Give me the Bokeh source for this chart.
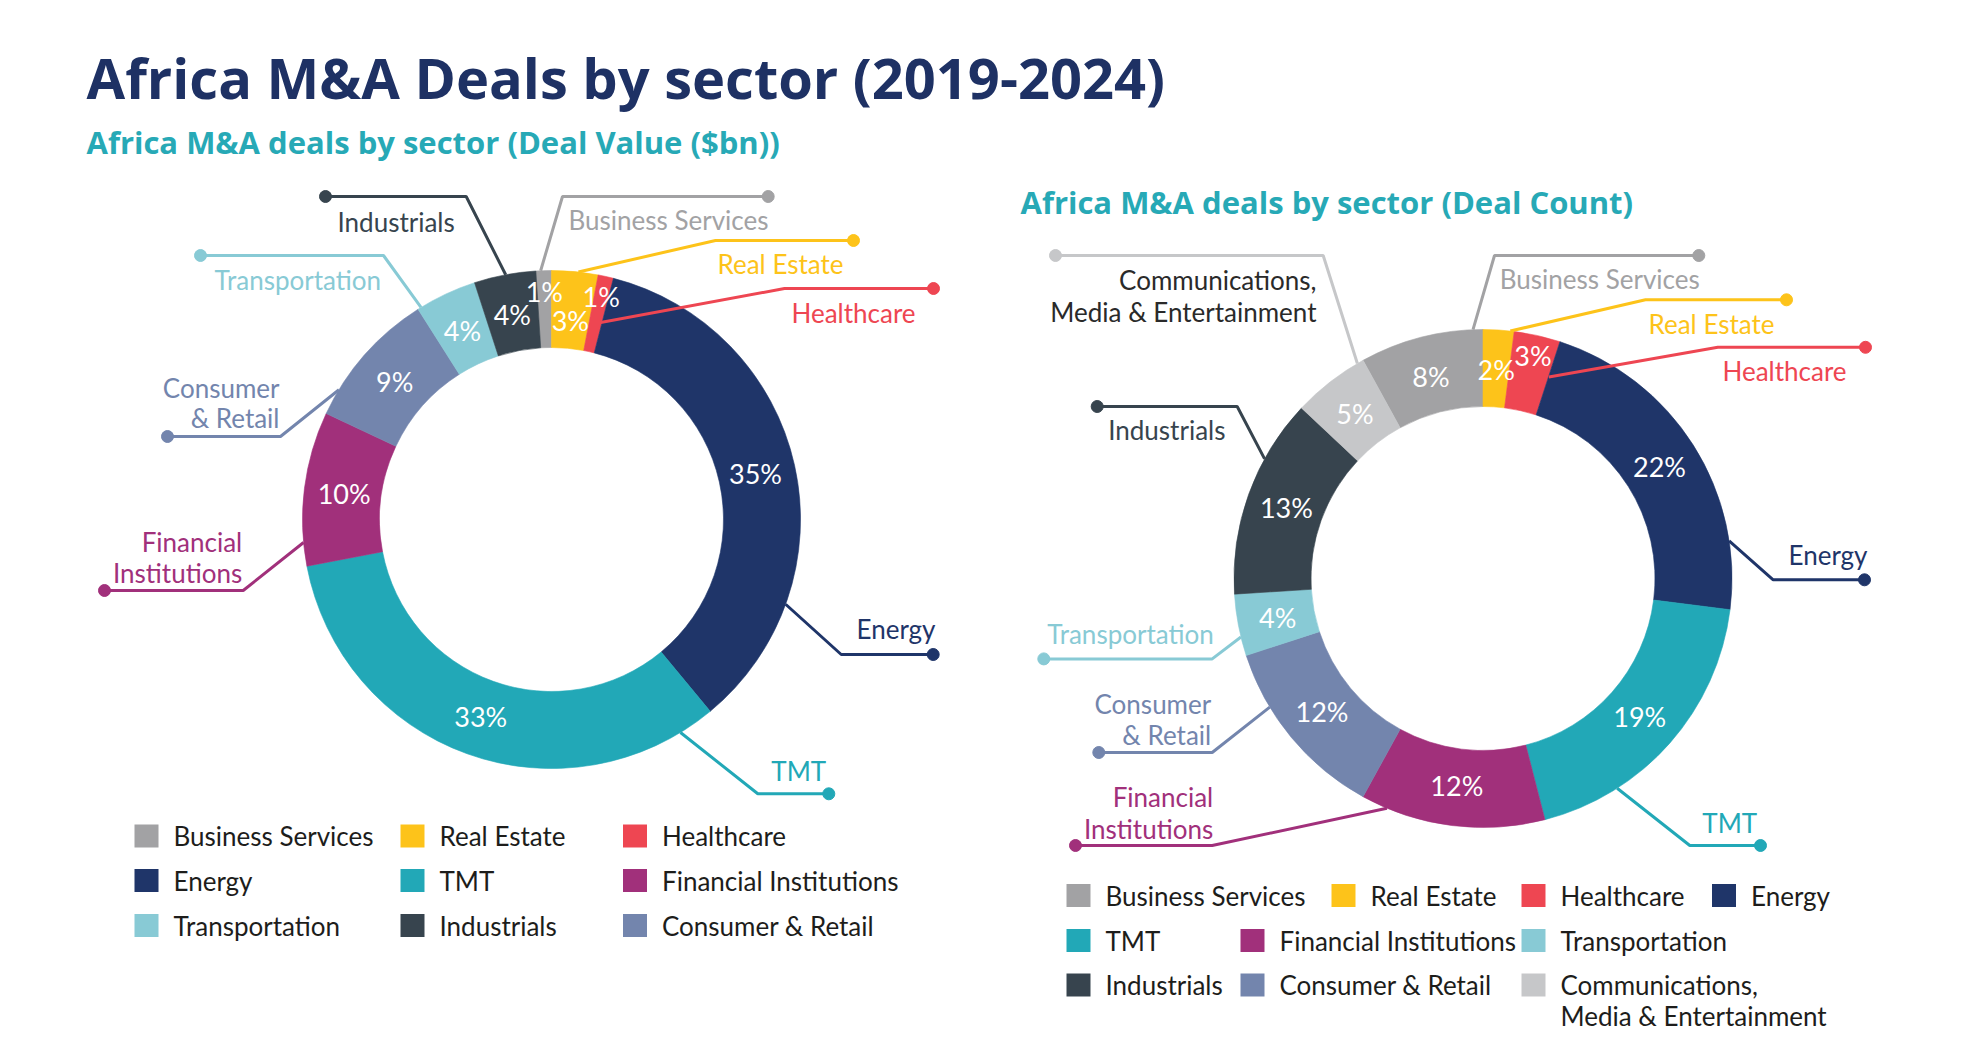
import numpy as np
from bokeh.plotting import figure
from bokeh.models import Range1d
from bokeh.core.properties import value
from bokeh.embed import file_html
from bokeh.resources import INLINE

# ---------------- data ----------------
title_text = "Africa M&A Deals by sector (2019-2024)"
subtitle_value = "Africa M&A deals by sector (Deal Value ($bn))"
subtitle_count = "Africa M&A deals by sector (Deal Count)"

value_sectors = ["Business Services", "Real Estate", "Healthcare", "Energy", "TMT",
                 "Financial Institutions", "Consumer & Retail", "Transportation", "Industrials"]
value_shares = [1, 3, 1, 35, 33, 10, 9, 4, 4]

count_sectors = ["Business Services", "Real Estate", "Healthcare", "Energy", "TMT",
                 "Financial Institutions", "Consumer & Retail", "Transportation", "Industrials",
                 "Communications, Media & Entertainment"]
count_shares = [8, 2, 3, 22, 19, 12, 12, 4, 13, 5]

value_legend_order = ["Business Services", "Real Estate", "Healthcare",
                      "Energy", "TMT", "Financial Institutions",
                      "Transportation", "Industrials", "Consumer & Retail"]
count_legend_order = ["Business Services", "Real Estate", "Healthcare", "Energy",
                      "TMT", "Financial Institutions", "Transportation",
                      "Industrials", "Consumer & Retail", "Communications, Media & Entertainment"]

# ---------------- styles ----------------
colors = {
    "Business Services": "#a2a2a4",
    "Real Estate": "#fdc31a",
    "Healthcare": "#ee4652",
    "Energy": "#1f3569",
    "TMT": "#22a8b7",
    "Financial Institutions": "#a1307b",
    "Consumer & Retail": "#7385ad",
    "Transportation": "#88cad5",
    "Industrials": "#37444e",
    "Communications, Media & Entertainment": "#c6c7c9",
}
label_colors = dict(colors)
label_colors["Communications, Media & Entertainment"] = "#2a2a2a"

TITLE_COLOR = "#1e3164"
SUB_COLOR = "#27a9b6"
TEXT_COLOR = "#1d1d1b"
FONT = value("Lato")
LABEL_SIZE = "26px"

PAGE_H = 1057
R_OUT, R_IN = 249, 172


def fy(Y):
    return PAGE_H - Y


p = figure(width=1972, height=1041, x_range=Range1d(0, 1972), y_range=Range1d(PAGE_H - 1041, PAGE_H),
           output_backend="svg", toolbar_location=None, min_border=0,
           x_axis_location=None, y_axis_location=None)
p.grid.visible = False
p.outline_line_color = None
p.background_fill_color = "white"

# titles
p.text(x=[86], y=[fy(76)], text=[title_text], text_font=value("Open Sans"), text_font_style="bold",
       text_font_size="56px", text_color=TITLE_COLOR, text_baseline="middle", text_align="left")
p.text(x=[86], y=[fy(141)], text=[subtitle_value], text_font=value("Open Sans"), text_font_style="bold",
       text_font_size="31px", text_color=SUB_COLOR, text_baseline="middle", text_align="left")
p.text(x=[1020], y=[fy(201)], text=[subtitle_count], text_font=value("Open Sans"), text_font_style="bold",
       text_font_size="31px", text_color=SUB_COLOR, text_baseline="middle", text_align="left")


def donut(cx, cy, sectors, shares, pct_radius, callouts):
    shares = np.array(shares, dtype=float)
    total = shares.sum()
    start = -shares[0]  # first slice ends at 12 o'clock
    cum = np.concatenate([[0], np.cumsum(shares)])
    th1 = (start + cum[:-1]) / total * 360.0  # clockwise from top, degrees
    th2 = (start + cum[1:]) / total * 360.0
    a_start = np.deg2rad(90 - th2)
    a_end = np.deg2rad(90 - th1)
    cols = [colors[s] for s in sectors]
    p.annular_wedge(x=cx, y=fy(cy), inner_radius=R_IN, outer_radius=R_OUT,
                    start_angle=list(a_start), end_angle=list(a_end),
                    fill_color=cols, line_color=cols, line_width=0.6)
    # percentage labels
    mid = np.deg2rad((th1 + th2) / 2)
    rr = np.array([pct_radius.get(s, 209) for s in sectors])
    px = cx + rr * np.sin(mid)
    py = cy - rr * np.cos(mid)
    p.text(x=list(px), y=[fy(v) for v in py], text=[f"{int(v)}%" for v in shares],
           text_font=FONT, text_font_size="27px", text_color="white",
           text_align="center", text_baseline="middle")
    # callouts
    for s in sectors:
        c = callouts[s]
        ang = np.deg2rad(c["ang"])
        r = c.get("r", R_OUT)
        ax, ay = cx + r * np.sin(ang), cy - r * np.cos(ang)
        ex, ey = c["elbow"]
        dx = c["end"]
        p.line(x=[ax, ex, dx], y=[fy(ay), fy(ey), fy(ey)], line_width=3, line_color=colors[s])
        p.scatter(x=[dx], y=[fy(ey)], size=12, marker="circle", fill_color=colors[s], line_color=colors[s])
        lx = c["lx"]
        for i, line in enumerate(c["lines"]):
            p.text(x=[lx], y=[fy(c["ly"][i])], text=[line], text_font=FONT, text_font_size=LABEL_SIZE,
                   text_color=label_colors[s], text_align=c["align"], text_baseline="middle")


left_callouts = {
    "Industrials": dict(ang=-10.6, elbow=(465.7, 196), end=325, lx=337, ly=[221.7], lines=["Industrials"], align="left"),
    "Business Services": dict(ang=-2.5, elbow=(562, 196), end=767.7, lx=568, ly=[219], lines=["Business Services"], align="left"),
    "Real Estate": dict(ang=6.2, elbow=(715, 240), end=853, lx=717, ly=[263], lines=["Real Estate"], align="left"),
    "Healthcare": dict(ang=14, r=203, elbow=(784, 288), end=933, lx=791, ly=[312], lines=["Healthcare"], align="left"),
    "Energy": dict(ang=109.9, elbow=(840.7, 654), end=932.7, lx=856, ly=[628.3], lines=["Energy"], align="left"),
    "TMT": dict(ang=148.8, elbow=(757.3, 793.3), end=828.3, lx=825.7, ly=[770.7], lines=["TMT"], align="right"),
    "Financial Institutions": dict(ang=264.7, elbow=(242.7, 590), end=104, lx=241.7, ly=[541, 572],
                                   lines=["Financial", "Institutions"], align="right"),
    "Consumer & Retail": dict(ang=301.4, elbow=(280, 436), end=167, lx=279, ly=[387, 417],
                              lines=["Consumer", "& Retail"], align="right"),
    "Transportation": dict(ang=328.4, elbow=(383, 255), end=200, lx=214, ly=[279], lines=["Transportation"], align="left"),
}

right_callouts = {
    "Communications, Media & Entertainment": dict(ang=329.7, elbow=(1322.7, 255), end=1055, lx=1316, ly=[279.5, 311],
                                                  lines=["Communications,", "Media & Entertainment"], align="right"),
    "Industrials": dict(ang=298.7, elbow=(1236.7, 406), end=1096.7, lx=1107.7, ly=[429.8], lines=["Industrials"], align="left"),
    "Transportation": dict(ang=256.4, elbow=(1211.7, 658.4), end=1043.3, lx=1046.7, ly=[633.4], lines=["Transportation"], align="left"),
    "Consumer & Retail": dict(ang=238.9, elbow=(1211.7, 752), end=1098.3, lx=1210.7, ly=[703.4, 734.3],
                              lines=["Consumer", "& Retail"], align="right"),
    "Financial Institutions": dict(ang=202.7, elbow=(1211.7, 845), end=1075, lx=1212.7, ly=[796.7, 828.4],
                                   lines=["Financial", "Institutions"], align="right"),
    "Business Services": dict(ang=357.7, elbow=(1494, 255), end=1698.3, lx=1499.3, ly=[278.7], lines=["Business Services"], align="left"),
    "Real Estate": dict(ang=6.3, elbow=(1645, 299.3), end=1786, lx=1648, ly=[323], lines=["Real Estate"], align="left"),
    "Healthcare": dict(ang=18.1, r=212, elbow=(1717.3, 346.8), end=1865, lx=1722, ly=[370.5], lines=["Healthcare"], align="left"),
    "Energy": dict(ang=81.3, elbow=(1772.7, 579.3), end=1864, lx=1788, ly=[554.4], lines=["Energy"], align="left"),
    "TMT": dict(ang=147.4, elbow=(1689.3, 845), end=1760, lx=1756.7, ly=[822], lines=["TMT"], align="right"),
}

donut(551, 519, value_sectors, value_shares,
      {"Business Services": 228, "Healthcare": 228, "Real Estate": 200}, left_callouts)
donut(1482.5, 578, count_sectors, count_shares,
      {"Healthcare": 229}, right_callouts)

# ---------------- legends ----------------
SQ_W, SQ_H = 24, 23
left_legend_pos = [(134, 835.5), (400, 835.5), (622.5, 835.5),
                   (134, 880), (400, 880), (622.5, 880),
                   (134, 925), (400, 925), (622.5, 925)]
right_legend_pos = [(1066, 895), (1331, 895), (1521, 895), (1711.5, 895),
                    (1066, 940), (1240, 940), (1521, 940),
                    (1066, 984.5), (1240, 984.5), (1521, 984.5)]
legend_lines = {"Communications, Media & Entertainment": ["Communications,", "Media & Entertainment"]}


def legend(order, positions):
    xs = [x + SQ_W / 2 for x, _ in positions]
    ys = [fy(y) for _, y in positions]
    p.rect(x=xs, y=ys, width=SQ_W, height=SQ_H, fill_color=[colors[s] for s in order], line_color=None)
    for s, (x, y) in zip(order, positions):
        for i, line in enumerate(legend_lines.get(s, [s])):
            p.text(x=[x + 39], y=[fy(y + 30.5 * i)], text=[line], text_font=FONT, text_font_size=LABEL_SIZE,
                   text_color=TEXT_COLOR, text_align="left", text_baseline="middle")


legend(value_legend_order, left_legend_pos)
legend(count_legend_order, right_legend_pos)

open("out.html", "w").write(file_html(p, INLINE))
